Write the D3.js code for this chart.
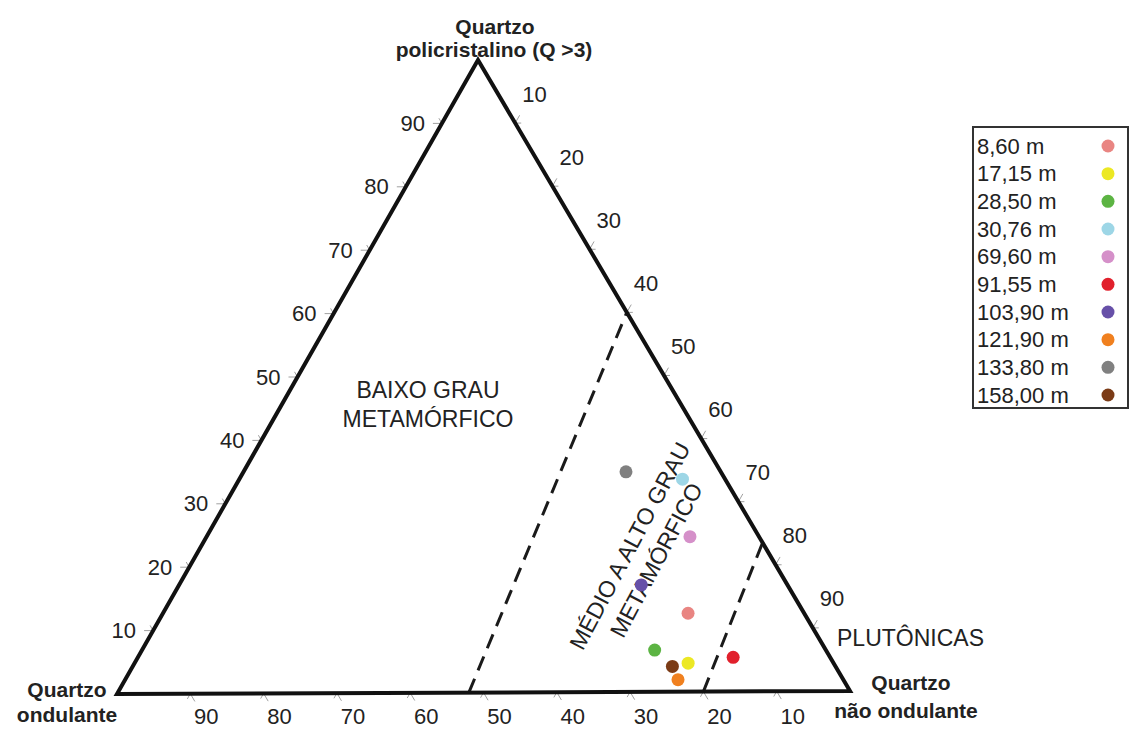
<!DOCTYPE html>
<html>
<head>
<meta charset="utf-8">
<script src="https://cdn.jsdelivr.net/npm/d3@7"></script>
<style>
  body { margin: 0; background: #ffffff; }
  text { font-family: "Liberation Sans", Arial, sans-serif; fill: #222222; }
</style>
</head>
<body>
<div id="chart"></div>
<script>
// sample depths and colours (legend order)
var depths = ["8,60 m", "17,15 m", "28,50 m", "30,76 m", "69,60 m", "91,55 m", "103,90 m", "121,90 m", "133,80 m", "158,00 m"];
var colors = ["#e98582", "#ece824", "#5cb443", "#9dd6e6", "#d590c9", "#e1202c", "#6750a8", "#f0801f", "#808080", "#7b3b16"];

// percentages
var qPoli   = [12.4,  4.5,  6.6, 33.6, 24.5,  5.4, 16.9,  1.9, 34.8,  4.0]; // Quartzo policristalino (Q >3)
var qOnd    = [15.8, 19.8, 23.3,  5.8,  9.4, 13.2, 19.9, 22.5, 12.9, 22.2]; // Quartzo ondulante
var qNaoOnd = [71.8, 75.7, 70.1, 60.6, 66.1, 81.4, 63.2, 75.6, 52.3, 73.8]; // Quartzo não ondulante

var ticks = [10, 20, 30, 40, 50, 60, 70, 80, 90];

// field boundaries [poli, ond, naoOnd] start -> end
var boundA = [[0, 52, 48], [60, 0, 40]];
var boundB = [[0, 20, 80], [23.5, 0, 76.5]];

var W = 1132, H = 731;
// triangle corners
var L = [117, 694], T = [478, 60], R = [850, 691];

var svg = d3.select('#chart').append('svg')
    .attr('width', W).attr('height', H);
svg.append('rect').attr('width', W).attr('height', H).attr('fill', '#ffffff');

// edge scales (array interpolation)
var leftEdge   = d3.scaleLinear().domain([0, 100]).range([L, T]);   // poli along left edge
var rightEdge  = d3.scaleLinear().domain([0, 100]).range([T, R]);   // naoOnd along right edge
var bottomEdge = d3.scaleLinear().domain([100, 0]).range([L, R]);   // ond along bottom edge
var frac = d3.scaleLinear().domain([0, 100]).range([0, 1]);

function proj(p, o, n) {
    var b = frac(p), c = frac(n);
    return [L[0] + b * (T[0] - L[0]) + c * (R[0] - L[0]),
            L[1] + b * (T[1] - L[1]) + c * (R[1] - L[1])];
}

// ticks: main stroke along grid direction, barb rotated 60deg
function norm(v) { var l = Math.hypot(v[0], v[1]); return [v[0] / l, v[1] / l]; }
function rot(v, a) { return [v[0] * Math.cos(a) - v[1] * Math.sin(a), v[0] * Math.sin(a) + v[1] * Math.cos(a)]; }
var dirLeft = [-1, 0];
var dirRight = norm([T[0] - L[0], T[1] - L[1]]);
var dirBottom = norm([R[0] - T[0], R[1] - T[1]]);

function tickPath(P, dir) {
    var b = rot(dir, Math.PI / 3);
    return 'M' + (P[0] + dir[0] * 9) + ',' + (P[1] + dir[1] * 9) + 'L' + P[0] + ',' + P[1] +
           'L' + (P[0] + b[0] * 6) + ',' + (P[1] + b[1] * 6);
}

var tg = svg.append('g').attr('fill', 'none').attr('stroke', '#a0a0a0').attr('stroke-width', 1);
tg.selectAll('.tl').data(ticks).enter().append('path').attr('d', function(d) { return tickPath(leftEdge(d), dirLeft); });
tg.selectAll('.tr').data(ticks).enter().append('path').attr('d', function(d) { return tickPath(rightEdge(d), dirRight); });
tg.selectAll('.tb').data(ticks).enter().append('path').attr('d', function(d) { return tickPath(bottomEdge(d), dirBottom); });

// tick labels
var lg = svg.append('g').style('font-size', '22px');
lg.selectAll('.ll').data(ticks).enter().append('text')
    .attr('x', function(d) { return leftEdge(d)[0] - 17; })
    .attr('y', function(d) { return leftEdge(d)[1]; })
    .attr('text-anchor', 'end').attr('dominant-baseline', 'central')
    .text(function(d) { return d; });
lg.selectAll('.lr').data(ticks).enter().append('text')
    .attr('x', function(d) { return rightEdge(d)[0] + 7; })
    .attr('y', function(d) { return rightEdge(d)[1] - 29; })
    .attr('text-anchor', 'start').attr('dominant-baseline', 'central')
    .text(function(d) { return d; });
lg.selectAll('.lb').data(ticks).enter().append('text')
    .attr('x', function(d) { return bottomEdge(d)[0] + 16; })
    .attr('y', 716)
    .attr('text-anchor', 'middle').attr('dominant-baseline', 'central')
    .text(function(d) { return d; });

// dashed field boundaries
var line = d3.line();
[boundA, boundB].forEach(function(bd) {
    svg.append('path')
        .attr('d', line(bd.map(function(q) { return proj(q[0], q[1], q[2]); })))
        .attr('fill', 'none').attr('stroke', '#1a1a1a').attr('stroke-width', 3)
        .attr('stroke-dasharray', '15,9');
});

// triangle
svg.append('path')
    .attr('d', line([L, T, R]) + 'Z')
    .attr('fill', 'none').attr('stroke', '#111111').attr('stroke-width', 4)
    .attr('stroke-linejoin', 'miter');

// field labels
var fl = svg.append('g').style('font-size', '23px');
fl.append('text').attr('x', 428).attr('y', 398).attr('text-anchor', 'middle').text('BAIXO GRAU');
fl.append('text').attr('x', 428).attr('y', 427).attr('text-anchor', 'middle').text('METAMÓRFICO');
var rg = fl.append('g').attr('transform', 'translate(643,553) rotate(-62)');
rg.append('text').attr('x', 0).attr('y', -15).attr('text-anchor', 'middle').attr('dominant-baseline', 'central').text('MÉDIO A ALTO GRAU');
rg.append('text').attr('x', 0).attr('y', 15).attr('text-anchor', 'middle').attr('dominant-baseline', 'central').text('METAMÓRFICO');
fl.append('text').attr('x', 837).attr('y', 646).text('PLUTÔNICAS');

// vertex labels
var vl = svg.append('g').style('font-size', '21px').style('font-weight', 'bold');
vl.append('text').attr('x', 495).attr('y', 34).attr('text-anchor', 'middle').text('Quartzo');
vl.append('text').attr('x', 494).attr('y', 57).attr('text-anchor', 'middle').text('policristalino (Q >3)');
vl.append('text').attr('x', 67).attr('y', 697).attr('text-anchor', 'middle').text('Quartzo');
vl.append('text').attr('x', 67).attr('y', 722).attr('text-anchor', 'middle').text('ondulante');
vl.append('text').attr('x', 911).attr('y', 690).attr('text-anchor', 'middle').text('Quartzo');
vl.append('text').attr('x', 906).attr('y', 718).attr('text-anchor', 'middle').text('não ondulante');

// data points
var pts = d3.range(depths.length).map(function(i) {
    return { p: qPoli[i], o: qOnd[i], n: qNaoOnd[i], c: colors[i] };
});
svg.selectAll('.pt').data(pts).enter().append('circle')
    .attr('cx', function(d) { return proj(d.p, d.o, d.n)[0]; })
    .attr('cy', function(d) { return proj(d.p, d.o, d.n)[1]; })
    .attr('r', 6.5)
    .attr('fill', function(d) { return d.c; });

// legend
var leg = svg.append('g');
leg.append('rect').attr('x', 973).attr('y', 127).attr('width', 155).attr('height', 281)
    .attr('fill', '#ffffff').attr('stroke', '#333333').attr('stroke-width', 2);
var legY = d3.scaleLinear().domain([0, depths.length - 1]).range([146, 395]);
leg.selectAll('.lt').data(depths).enter().append('text')
    .attr('x', 977).attr('y', function(d, i) { return legY(i); })
    .attr('dominant-baseline', 'central').style('font-size', '22px')
    .text(function(d) { return d; });
leg.selectAll('.lc').data(colors).enter().append('circle')
    .attr('cx', 1108).attr('cy', function(d, i) { return legY(i); })
    .attr('r', 6.5).attr('fill', function(d) { return d; });
</script>
</body>
</html>
